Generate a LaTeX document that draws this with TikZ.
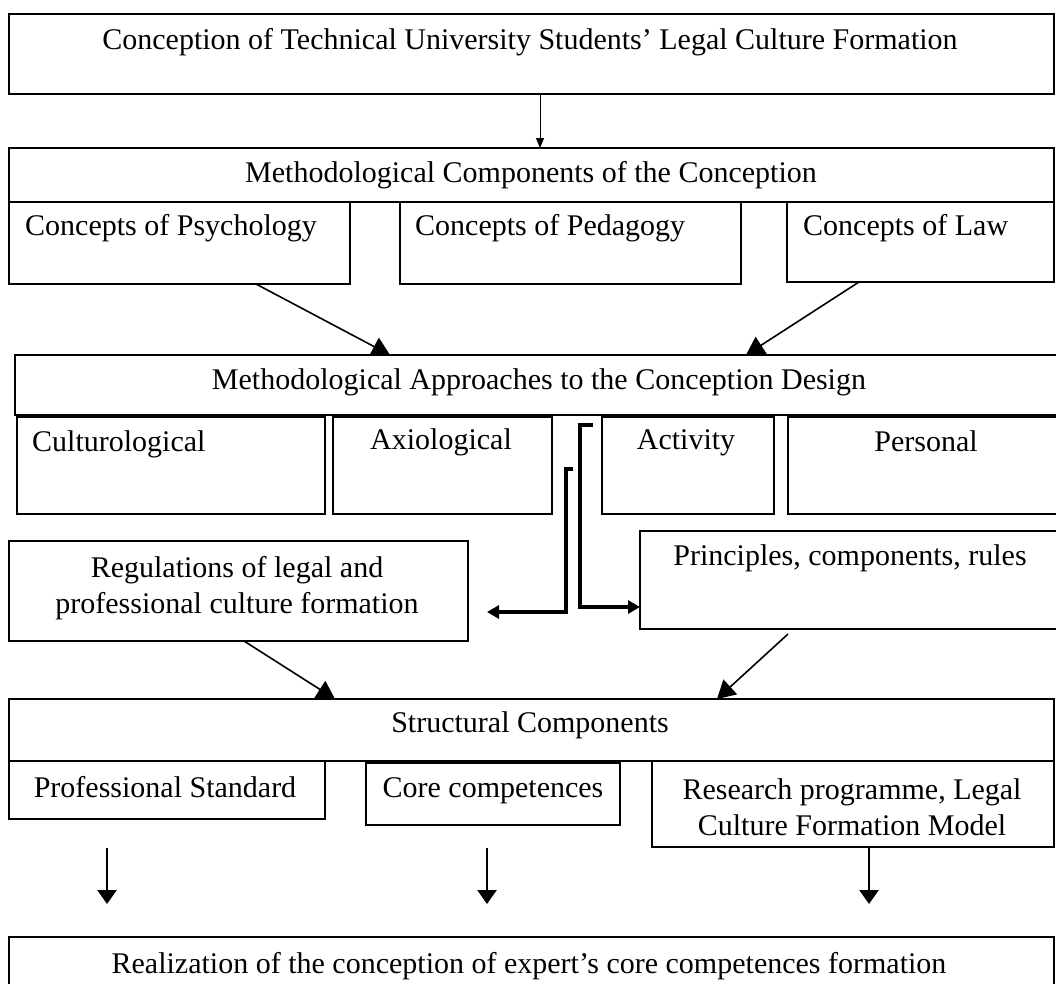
\documentclass[tikz,border=0pt]{standalone}
\usepackage{fontspec}
\setmainfont{Liberation Serif}
\usetikzlibrary{arrows.meta,calc}
\begin{document}
\begin{tikzpicture}[x=1pt,y=-1pt,
  box/.style={draw, line width=1.3pt, inner sep=0pt, outer sep=0pt, anchor=north west},
  lbl/.style={anchor=base, inner sep=0pt, font=\fontsize{30}{36}\selectfont},
  lbll/.style={lbl, anchor=base west},
  thinarrow/.style={line width=1pt, -{Triangle[length=10pt,width=8pt]}},
  diagarrow/.style={line width=1.6pt, -{Triangle[length=18pt,width=20pt]}},
  downarrow/.style={line width=2.6pt, -{Triangle[length=14pt,width=19pt]}},
  brackarrow/.style={line width=3.2pt, -{Triangle[length=12pt,width=13pt]}}
]
\useasboundingbox (0,0) rectangle (1056,983);
\clip (0,0) rectangle (1056,983);
\fill[white] (0,0) rectangle (1056,983);

% boxes
\node[box, minimum width=1045pt, minimum height=80pt] (top) at (9,14) {};
\node[box, minimum width=1045pt, minimum height=54pt] (comp) at (9,148) {};
\node[box, minimum width=341pt, minimum height=82pt] (psy) at (9,202) {};
\node[box, minimum width=341pt, minimum height=82pt] (ped) at (400,202) {};
\node[box, minimum width=267pt, minimum height=80pt] (law) at (787,202) {};
\node[box, minimum width=1055pt, minimum height=60pt] (appr) at (15,355) {};
\node[box, minimum width=308pt, minimum height=97pt] (cult) at (17,417) {};
\node[box, minimum width=219pt, minimum height=97pt] (axio) at (333,417) {};
\node[box, minimum width=172pt, minimum height=97pt] (act) at (602,417) {};
\node[box, minimum width=282pt, minimum height=97pt] (pers) at (788,417) {};
\node[box, minimum width=459pt, minimum height=100pt] (reg) at (9,541) {};
\node[box, minimum width=430pt, minimum height=98pt] (prin) at (640,531) {};
\node[box, minimum width=1045pt, minimum height=62pt] (struct) at (9,699) {};
\node[box, minimum width=316pt, minimum height=58pt] (prof) at (9,761) {};
\node[box, minimum width=254pt, minimum height=62pt] (core) at (366,763) {};
\node[box, minimum width=402pt, minimum height=86pt] (res) at (652,761) {};
\node[box, minimum width=1045pt, minimum height=70pt] (real) at (9,937) {};

% texts
\node[lbl] (topT) at (530,49) {Conception of Technical University Students’ Legal Culture Formation};
\node[lbl] (compT) at (531,182) {Methodological Components of the Conception};
\node[lbll] (psyT) at (25,235) {Concepts of Psychology};
\node[lbll] (pedT) at (415,235) {Concepts of Pedagogy};
\node[lbll] (lawT) at (803,235) {Concepts of Law};
\node[lbl] (apprT) at (539,389) {Methodological Approaches to the Conception Design};
\node[lbll] (cultT) at (32,451) {Culturological};
\node[lbl] (axioT) at (441,449) {Axiological};
\node[lbl] (actT) at (686,449) {Activity};
\node[lbl] (persT) at (926,451) {Personal};
\node[lbl] (regT1) at (237,577) {Regulations of legal and};
\node[lbl] (regT2) at (237,613) {professional culture formation};
\node[lbl] (prinT) at (850,565) {Principles, components, rules};
\node[lbl] (structT) at (530,732) {Structural Components};
\node[lbl] (profT) at (165,797) {Professional Standard};
\node[lbl] (coreT) at (493,797) {Core competences};
\node[lbl] (resT1) at (852,799) {Research programme, Legal};
\node[lbl] (resT2) at (852,835) {Culture Formation Model};
\node[lbl] (realT) at (529,973) {Realization of the conception of expert’s core competences formation};

% connectors
\draw[thinarrow] ($(top.south west)+(531,0)$) -- ($(comp.north west)+(531,0)$);
\draw[diagarrow] ($(psy.south west)+(247,0)$) -- ($(appr.north west)+(375,0)$);
\draw[diagarrow] ($(law.south west)+(72,0)$) -- ($(appr.north west)+(731,0)$);

\coordinate (bl) at (573,469);
\coordinate (br) at (593,425);
\draw[brackarrow] (bl) -- ++(-7,0) |- ($(reg.south east)+(19,-29)$);
\draw[brackarrow] (br) -- ++(-13,0) |- ($(prin.south west)+(0,-22)$);

\draw[diagarrow] ($(reg.south west)+(235,0)$) -- ($(struct.north west)+(326,0)$);
\draw[diagarrow] ($(prin.south west)+(148,5)$) -- ($(struct.north west)+(708,0)$);

\draw[downarrow] ($(prof.south west)+(98,29)$) -- ($(real.north west)+(98,-33)$);
\draw[downarrow] ($(core.south west)+(121,23)$) -- ($(real.north west)+(478,-33)$);
\draw[downarrow] ($(res.south west)+(217,0)$) -- ($(real.north west)+(860,-33)$);
\end{tikzpicture}
\end{document}
